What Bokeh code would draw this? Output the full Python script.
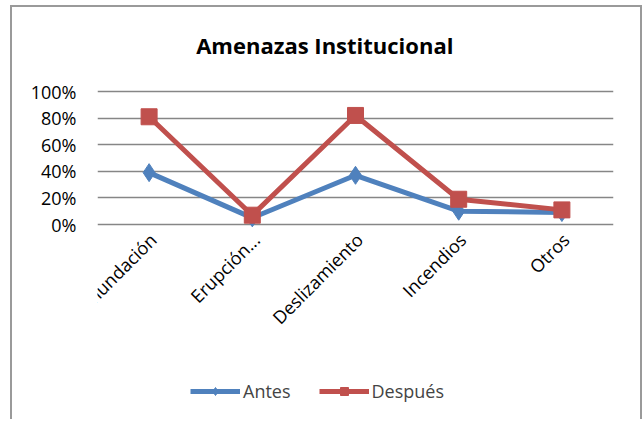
from bokeh.plotting import figure
from bokeh.models import Legend, LegendItem, NumeralTickFormatter, FixedTicker, Label
from bokeh.core.properties import value
from bokeh.embed import file_html
from bokeh.resources import INLINE
import math

categories = ["Inundación", "Erupción...", "Deslizamiento", "Incendios", "Otros"]
antes = [0.39, 0.05, 0.37, 0.10, 0.09]
despues = [0.81, 0.07, 0.82, 0.19, 0.11]
y_ticks = [0, 0.2, 0.4, 0.6, 0.8, 1.0]
title_text = "Amenazas  Institucional"

FONT = "Open Sans"
BLUE = "#4F81BD"
RED = "#C0504D"

# frame extends above (title) and below (category labels, legend) the 0-100% band
p = figure(x_range=categories, y_range=(-1.466, 1.609), frame_width=516, frame_height=409,
           output_backend="svg", toolbar_location=None, title=None,
           min_border_left=85, min_border_right=27, min_border_top=3, min_border_bottom=0,
           styles={"margin-left": "10px", "margin-top": "5px",
                   "border-left": "2px solid #9a9a9a", "border-top": "2px solid #9a9a9a",
                   "border-right": "2px solid #9a9a9a"})

p.outline_line_color = None
p.border_fill_color = "white"

p.add_layout(Label(x=2.23, y=1.353, text=title_text, text_align="center",
                   text_baseline="middle", text_font=FONT, text_font_size="22px",
                   text_font_style="bold", text_color="#000000"))

# grid
p.xgrid.grid_line_color = None
p.ygrid.grid_line_color = "#868686"
p.ygrid.grid_line_width = 1.5
p.yaxis.ticker = FixedTicker(ticks=y_ticks)
p.yaxis.formatter = NumeralTickFormatter(format="0%")
p.yaxis.axis_line_color = None
p.yaxis.major_tick_line_color = None
p.yaxis.minor_tick_line_color = None
p.yaxis.major_label_text_font = FONT
p.yaxis.major_label_text_font_size = "18px"
p.yaxis.major_label_text_color = "#000000"
p.yaxis.major_label_standoff = 15
p.xaxis.visible = False

# category labels, rotated 45 degrees, ending just below the 0% line
p.text(x=categories, y=[0] * len(categories), text=categories, angle=math.pi / 4,
       text_align="right", text_baseline="middle", x_offset=4, y_offset=12,
       text_font=value(FONT), text_font_size=value("18px"), text_color="#000000")

la = p.line(categories, antes, line_color=BLUE, line_width=5)
sa = p.scatter(categories, antes, marker="diamond", size=18, fill_color=BLUE, line_color=BLUE)
ld = p.line(categories, despues, line_color=RED, line_width=5)
sd = p.scatter(categories, despues, marker="square", size=16, fill_color=RED, line_color=RED)

legend = Legend(items=[LegendItem(label="Antes", renderers=[la, sa]),
                       LegendItem(label="Después", renderers=[ld, sd])],
                orientation="horizontal", location=(93, 16),
                label_text_font=FONT, label_text_font_size="18px",
                glyph_width=50, glyph_height=20, spacing=28,
                border_line_color=None, background_fill_alpha=0,
                margin=0, padding=10, label_standoff=3)
p.add_layout(legend, "center")

html = file_html(p, INLINE)
open("out.html", "w").write(html)
